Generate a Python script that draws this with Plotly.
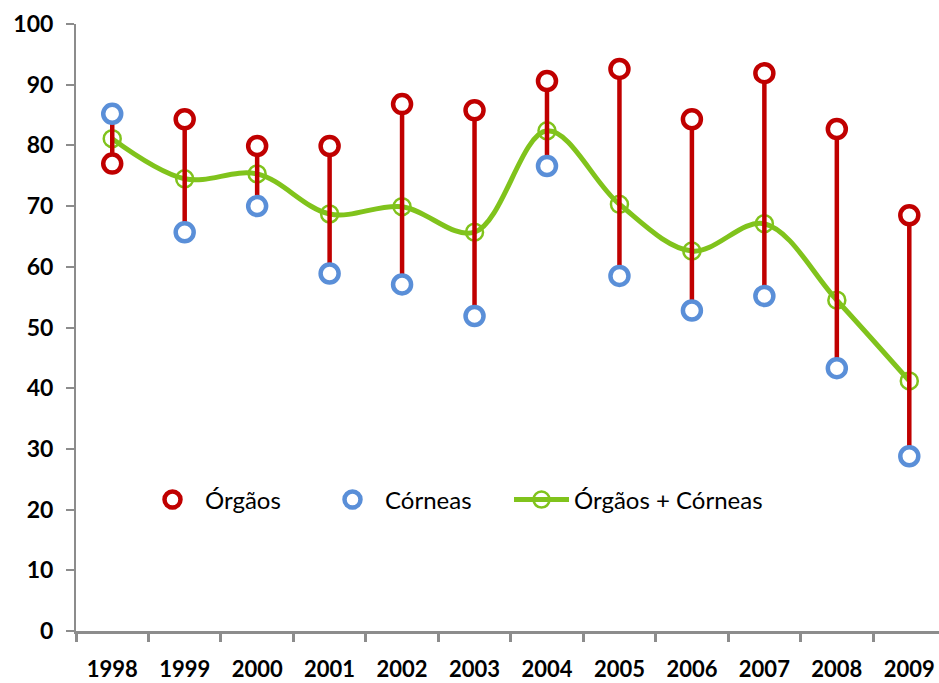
import plotly.graph_objects as go

years = ["1998", "1999", "2000", "2001", "2002", "2003", "2004", "2005", "2006", "2007", "2008", "2009"]
orgaos = [77.0, 84.3, 79.9, 79.9, 86.8, 85.8, 90.6, 92.6, 84.3, 91.9, 82.7, 68.5]
corneas = [85.2, 65.7, 70.0, 58.9, 57.1, 51.9, 76.6, 58.5, 52.8, 55.2, 43.3, 28.8]
total = [81.1, 74.5, 75.3, 68.7, 69.9, 65.7, 82.4, 70.3, 62.6, 67.1, 54.5, 41.2]
y_ticks = [0, 10, 20, 30, 40, 50, 60, 70, 80, 90, 100]

RED = "#C00000"
BLUE = "#5A8FD8"
GREEN = "#80C31C"
FONT = "Lato, 'Open Sans', sans-serif"

fig = go.Figure()

# Green smoothed total line
fig.add_trace(go.Scatter(
    x=years, y=total, mode="lines+markers", name="Órgãos + Córneas",
    line=dict(color=GREEN, width=5, shape="spline", smoothing=1.0),
    marker=dict(symbol="circle", size=17, color="rgba(0,0,0,0)",
                line=dict(color=GREEN, width=2.5)),
    legend="legend3", hoverinfo="skip",
))

# Red high-low segments between Órgãos and Córneas
seg_x, seg_y = [], []
for yr, o, c in zip(years, orgaos, corneas):
    seg_x += [yr, yr, None]
    seg_y += [o, c, None]
fig.add_trace(go.Scatter(
    x=seg_x, y=seg_y, mode="lines", showlegend=False,
    line=dict(color=RED, width=4.5), hoverinfo="skip", connectgaps=False,
))

fig.add_trace(go.Scatter(
    x=years, y=corneas, mode="markers", name="Córneas",
    marker=dict(symbol="circle", size=18, color="white",
                line=dict(color=BLUE, width=4.5)),
    legend="legend2", hoverinfo="skip",
))
fig.add_trace(go.Scatter(
    x=years, y=orgaos, mode="markers", name="Órgãos",
    marker=dict(symbol="circle", size=18, color="white",
                line=dict(color=RED, width=4.5)),
    legend="legend", hoverinfo="skip",
))

W = 863.0
def lx(px):
    return (px - 76) / W

leg_common = dict(orientation="h", yanchor="middle", y=(631 - 500) / 607.0,
                  xanchor="left", bgcolor="rgba(0,0,0,0)", itemwidth=55,
                  font=dict(family=FONT, size=24, color="#000000"),
                  itemclick=False, itemdoubleclick=False)

fig.update_layout(
    width=939, height=683,
    margin=dict(l=76, r=0, t=24, b=52),
    paper_bgcolor="white", plot_bgcolor="white",
    showlegend=True,
    legend=dict(x=lx(140), **leg_common),
    legend2=dict(x=lx(320), **leg_common),
    legend3=dict(x=lx(509), **leg_common),
    xaxis=dict(
        type="category", categoryorder="array", categoryarray=years,
        range=[-0.5, 11.41], tickson="boundaries", automargin=False,
        showline=True, linecolor="#8C8C8C", linewidth=3,
        ticks="outside", ticklen=8, tickwidth=3, tickcolor="#8C8C8C",
        showgrid=False, zeroline=False,
        tickfont=dict(family=FONT, size=22, color="#000000", weight=700),
        ticklabelstandoff=17,
    ),
    yaxis=dict(
        range=[0, 100], tickvals=y_ticks, ticktext=[str(v) for v in y_ticks],
        automargin=False,
        showline=True, linecolor="#8C8C8C", linewidth=2,
        ticks="outside", ticklen=8, tickwidth=2, tickcolor="#8C8C8C",
        showgrid=False, zeroline=False,
        tickfont=dict(family=FONT, size=23, color="#000000", weight=700),
        ticklabelstandoff=8,
    ),
)

fig.write_html(
    "out.html",
    config={"displayModeBar": False},
    post_script="document.body.style.margin='0';document.body.style.padding='0';document.body.style.overflow='hidden';",
)
